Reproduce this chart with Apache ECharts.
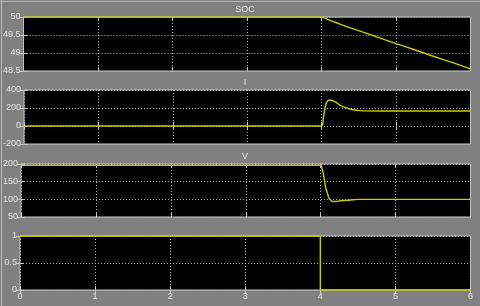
<!DOCTYPE html>
<html><head><meta charset="utf-8">
<script src="https://cdn.jsdelivr.net/npm/echarts@6/dist/echarts.min.js"></script>
<style>html,body{margin:0;padding:0;background:#808080;}#c{width:480px;height:306px;}</style>
</head><body><div id="c"></div>
<script>
var titles = ['SOC', 'I', 'V', ''];
var xTicks = [0, 1, 2, 3, 4, 5, 6];

var socT = [0, 4, 4.1, 4.2, 4.3, 4.5, 4.75, 5, 5.25, 5.5, 5.75, 6];
var socV = [50, 50, 49.92, 49.84, 49.76, 49.62, 49.44, 49.26, 49.09, 48.91, 48.74, 48.56];

var curT = [0, 4, 4.022, 4.044, 4.067, 4.089, 4.111, 4.178, 4.244, 4.31, 4.377, 4.443, 4.51, 4.577, 4.8, 6];
var curV = [0, 0, 85, 196, 263, 285, 289, 270, 233, 207, 189, 178, 171, 168, 167, 167];

var voltT = [0, 4, 4.02, 4.035, 4.05, 4.067, 4.09, 4.11, 4.13, 4.155, 4.2, 4.27, 4.35, 4.44, 4.5, 6];
var voltV = [196, 196, 185, 173, 155, 133, 117, 104, 98, 94, 94, 96, 97, 99, 100, 100];

var swT = [0, 4, 4, 6];
var swV = [1, 1, 0, 0];

var yRanges = [[48.5, 50, 0.5], [-200, 400, 200], [50, 200, 50], [0, 1, 0.5]];

var seriesT = [socT, curT, voltT, swT];
var seriesV = [socV, curV, voltV, swV];

var tops = [17, 90, 164, 236];
var heights = [54, 54, 53, 54];
var FONT = 'Liberation Sans';
var LABEL = '#e4e4e4';
var FRAME = '#c8c8c8';

function pairs(t, v) { return t.map(function (x, i) { return [x, v[i]]; }); }

var grids = [], xAxes = [], yAxes = [], series = [], title = [];
for (var g = 0; g < 4; g++) {
  grids.push({ left: 20, right: 9.5, top: tops[g], height: heights[g], show: true,
    backgroundColor: '#000', borderColor: FRAME, borderWidth: 1 });
  var last = (g === 3);
  xAxes.push({ type: 'value', gridIndex: g, min: 0, max: 6, interval: 1, position: 'bottom',
    axisLine: { show: false },
    axisTick: { show: true, inside: true, length: 4, lineStyle: { color: FRAME } },
    axisLabel: { show: last, color: LABEL, fontSize: 9, fontFamily: FONT, margin: 2 },
    splitLine: { show: true, lineStyle: { color: '#b4b4b4', type: [1, 2], width: 1 } } });
  xAxes.push({ type: 'value', gridIndex: g, min: 0, max: 6, interval: 1, position: 'top',
    axisLine: { show: false },
    axisTick: { show: true, inside: true, length: 4, lineStyle: { color: FRAME } },
    axisLabel: { show: false }, splitLine: { show: false } });
  var r = yRanges[g];
  yAxes.push({ type: 'value', gridIndex: g, min: r[0], max: r[1], interval: r[2], position: 'left',
    axisLine: { show: false },
    axisTick: { show: true, inside: true, length: 4, lineStyle: { color: FRAME } },
    axisLabel: { show: true, color: LABEL, fontSize: 9, fontFamily: FONT, margin: 3 },
    splitLine: { show: true, lineStyle: { color: '#b4b4b4', type: [1, 2], width: 1 } } });
  yAxes.push({ type: 'value', gridIndex: g, min: r[0], max: r[1], interval: r[2], position: 'right',
    axisLine: { show: false },
    axisTick: { show: true, inside: true, length: 4, lineStyle: { color: FRAME } },
    axisLabel: { show: false }, splitLine: { show: false } });
  series.push({ type: 'line', xAxisIndex: 2 * g, yAxisIndex: 2 * g, data: pairs(seriesT[g], seriesV[g]),
    symbol: 'none', smooth: g < 3 ? 0.3 : false, animation: false,
    lineStyle: { color: '#cccc00', width: 1.4 } });
  if (titles[g]) {
    title.push({ text: titles[g], left: 245, top: tops[g] - 12, textAlign: 'center', padding: 0,
      textStyle: { color: LABEL, fontSize: 9, fontWeight: 'normal', fontFamily: FONT, lineHeight: 10 } });
  }
}

var chart = echarts.init(document.getElementById('c'), null, { renderer: 'canvas' });
chart.setOption({
  backgroundColor: '#808080',
  animation: false,
  title: title,
  grid: grids,
  xAxis: xAxes,
  yAxis: yAxes,
  series: series,
  graphic: [
    { type: 'line', shape: { x1: 0, y1: 1.5, x2: 480, y2: 1.5 }, style: { stroke: '#b8b8b8', lineWidth: 1 } },
    { type: 'line', shape: { x1: 1.5, y1: 0, x2: 1.5, y2: 306 }, style: { stroke: '#b8b8b8', lineWidth: 1 } }
  ]
});
</script>
</body></html>
